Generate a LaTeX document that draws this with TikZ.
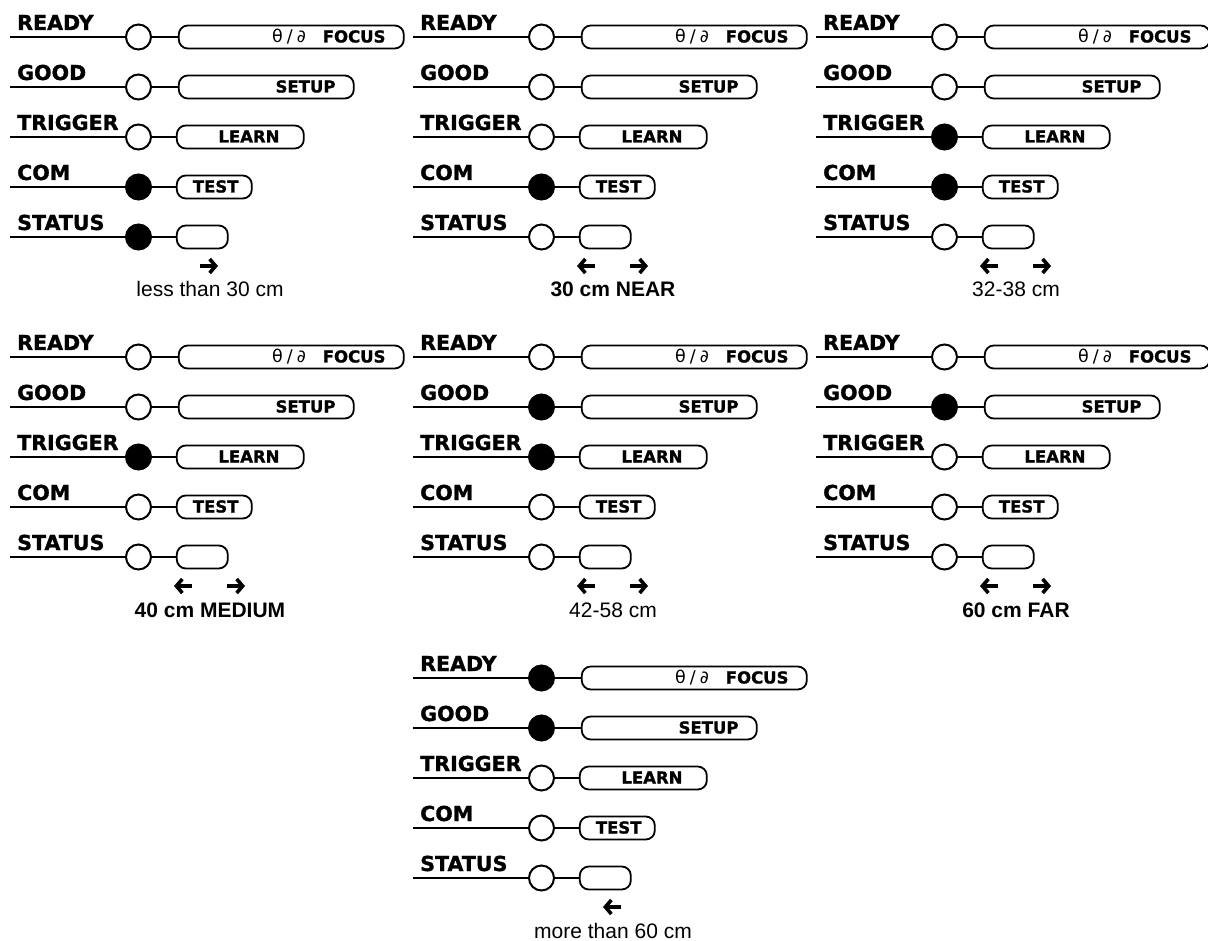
\documentclass[tikz,border=0pt]{standalone}
\usepackage{fontspec}
\setmainfont{Liberation Sans}
\newfontfamily\keyfont[BoldFeatures={FakeBold=1.2}]{DejaVu Sans}
\usetikzlibrary{arrows.meta}

\tikzset{
  lamp/.style={circle, draw, line width=2pt, minimum size=25pt, inner sep=0pt},
  keypill/.style={draw, line width=1.8pt, rounded corners=9pt, minimum height=23pt, inner sep=0pt, anchor=west},
  keytext/.style={anchor=base east, inner sep=0pt, font=\keyfont\bfseries\fontsize{16.5}{18}\selectfont},
  rowlabel/.style={anchor=base west, inner sep=0pt, font=\keyfont\bfseries\fontsize{20.6}{24}\selectfont},
  wire/.style={line width=2pt},
  dirarrow/.style={line width=3.6pt, -{Straight Barb[length=6pt,width=14pt]}},
  caption/.style={anchor=base, inner sep=0pt, font=\fontsize{21}{24}\selectfont},
}

\newcommand{\locks}{{\mdseries\fontsize{17.5}{18}\selectfont θ\kern4pt/\kern4pt∂}}

% #1 name, #2/#3 offset, #4 lamp states, #5 arrows, #6 caption
\newcommand{\rangepanel}[6]{%
  \begin{scope}[shift={(#2,#3)}]
    \foreach \lab/\key/\x/\w/\m [count=\i] in {READY/{\locks\hspace{17pt}FOCUS}/177/225/19,
        GOOD/SETUP/177/175/19, TRIGGER/LEARN/175/127/25, COM/TEST/175/75/14, STATUS/{}/175/51/0} {
      \pgfmathsetmacro{\y}{37+50*(\i-1)}
      \pgfmathtruncatemacro{\on}{{#4}[\i-1]}
      \ifnum\on=1 \def\lampfill{black}\else\def\lampfill{white}\fi
      \coordinate (#1-start-\i) at (10,\y);
      \node[rowlabel] (#1-label-\i) at (17,\y-7) {\lab};
      \node[lamp, fill=\lampfill] (#1-lamp-\i) at (138.5,\y) {};
      \node[keypill, minimum width=\w pt] (#1-key-\i) at (\x+0.9,\y) {};
      \node[keytext] (#1-text-\i) at ([xshift=-\m pt, yshift=-5.5pt]#1-key-\i.east) {\key};
      \draw[wire] (#1-start-\i) -- (#1-lamp-\i);
      \draw[wire] (#1-lamp-\i) -- (#1-key-\i);
    }
    \foreach \a/\b [count=\k] in {#5} {
      \coordinate (#1-from-\k) at (\a,266);
      \coordinate (#1-to-\k) at (\b,266);
      \draw[dirarrow] (#1-from-\k) -- (#1-to-\k);
    }
    \node[caption] (#1-caption) at (210,297) {#6};
  \end{scope}}

\begin{document}
\begin{tikzpicture}[x=1pt, y=-1pt]
  \useasboundingbox (0,0) rectangle (1208,941);
  \rangepanel{p1}{0}{0}{0,0,0,1,1}{200/218}{less than 30 cm}
  \rangepanel{p2}{403}{0}{0,0,0,1,0}{192/174,227/245}{\bfseries 30 cm NEAR}
  \rangepanel{p3}{806}{0}{0,0,1,1,0}{192/174,227/245}{32-38 cm}
  \rangepanel{p4}{0}{320}{0,0,1,0,0}{192/174,227/245}{\bfseries 40 cm MEDIUM}
  \rangepanel{p5}{403}{320}{0,1,1,0,0}{192/174,227/245}{42-58 cm}
  \rangepanel{p6}{806}{320}{0,1,0,0,0}{192/174,227/245}{\bfseries 60 cm FAR}
  \rangepanel{p7}{403}{641}{1,1,0,0,0}{218/200}{more than 60 cm}
\end{tikzpicture}
\end{document}
